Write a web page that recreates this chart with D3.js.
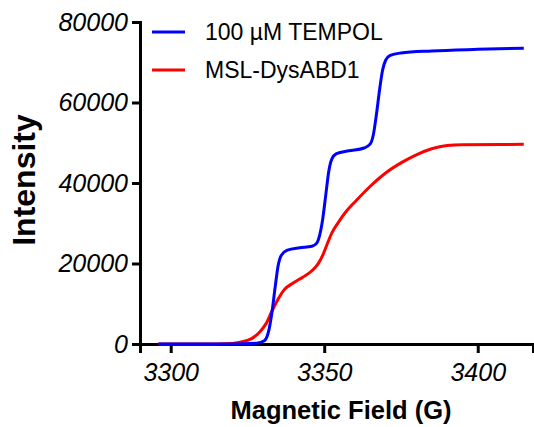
<!DOCTYPE html>
<html>
<head>
<meta charset="utf-8">
<script src="https://cdn.jsdelivr.net/npm/d3@7"></script>
<style>
  body { margin: 0; background: #fff; }
  text { font-family: "Liberation Sans", Arial, sans-serif; fill: #000; }
</style>
</head>
<body>
<svg id="chart" width="534" height="427"></svg>
<script>
const W = 534;
const H = 427;

// field (G) values for each series
const tempolField = [3296, 3320, 3328, 3330.5, 3332, 3333, 3334, 3335, 3336, 3338, 3342, 3346, 3347.5, 3348.5, 3349.5, 3350.5, 3351.5, 3352.5, 3354, 3358, 3363, 3365, 3366, 3367, 3368, 3369, 3370, 3371.5, 3375, 3385, 3400, 3415];
const tempolIntensity = [0, 0, 200, 800, 3500, 8000, 14000, 19500, 22000, 23300, 23900, 24300, 25000, 27000, 31000, 37000, 43000, 46000, 47300, 48000, 48700, 49700, 52000, 57000, 63000, 68000, 70500, 71700, 72300, 72800, 73200, 73500];

const mslField = [3296, 3315, 3320, 3323, 3326, 3329, 3331, 3333, 3335, 3337, 3340, 3343, 3346, 3348, 3349.5, 3351, 3352.5, 3354.5, 3357, 3360, 3365, 3370, 3375, 3380, 3385, 3390, 3395, 3415];
const mslIntensity = [0, 0, 100, 500, 1200, 3000, 5000, 8200, 11200, 13500, 15200, 16600, 18200, 19900, 22000, 24900, 27600, 30100, 32800, 35300, 39200, 42500, 45000, 47000, 48500, 49300, 49500, 49600];

const xTicks = [3300, 3350, 3400];
const yTicks = [0, 20000, 40000, 60000, 80000];
const seriesNames = ["100 \u00b5M TEMPOL", "MSL-DysABD1"];
const seriesColors = ["#0000ff", "#ff0000"];

const svg = d3.select("#chart");

const x = d3.scaleLinear().domain([3290, 3418]).range([140, 533]);
const y = d3.scaleLinear().domain([0, 80000]).range([344, 22]);

// axes
const xAxis = svg.append("g")
    .attr("transform", `translate(0,${y(0)})`)
    .call(d3.axisBottom(x).tickValues(xTicks).tickSizeOuter(0).tickSize(9).tickPadding(10).tickFormat(d3.format("d")));

const yAxis = svg.append("g")
    .attr("transform", `translate(${x(3290)},0)`)
    .call(d3.axisLeft(y).tickValues(yTicks).tickSizeOuter(0).tickSize(8).tickPadding(4).tickFormat(d3.format("d")));

[xAxis, yAxis].forEach(a => {
    a.selectAll("path, line").attr("stroke", "#000").attr("stroke-width", 3);
    a.selectAll("text")
        .style("font-size", "25px")
        .style("font-style", "italic")
        .attr("fill", "#000");
});

// data series
const tempol = tempolField.map((f, i) => [f, tempolIntensity[i]]);
const msl = mslField.map((f, i) => [f, mslIntensity[i]]);

const line = d3.line()
    .x(d => x(d[0]))
    .y(d => y(d[1]))
    .curve(d3.curveMonotoneX);

svg.append("path").datum(msl)
    .attr("d", line).attr("fill", "none")
    .attr("stroke", seriesColors[1]).attr("stroke-width", 3);

svg.append("path").datum(tempol)
    .attr("d", line).attr("fill", "none")
    .attr("stroke", seriesColors[0]).attr("stroke-width", 3);

// legend
const legend = svg.append("g").attr("transform", "translate(152,32)");
seriesNames.forEach((name, i) => {
    const row = legend.append("g").attr("transform", `translate(0,${i * 38})`);
    row.append("line").attr("x1", 0).attr("x2", 33).attr("y1", 0).attr("y2", 0)
        .attr("stroke", seriesColors[i]).attr("stroke-width", 3);
    row.append("text").attr("x", 53).attr("y", 8)
        .style("font-size", "23px").text(name);
});

// axis titles
svg.append("text")
    .attr("x", 341).attr("y", 419)
    .attr("text-anchor", "middle")
    .style("font-size", "25.5px").style("font-weight", "bold")
    .text("Magnetic Field (G)");

svg.append("text")
    .attr("transform", "translate(35,180) rotate(-90)")
    .attr("text-anchor", "middle")
    .style("font-size", "32px").style("font-weight", "bold")
    .text("Intensity");
</script>
</body>
</html>
